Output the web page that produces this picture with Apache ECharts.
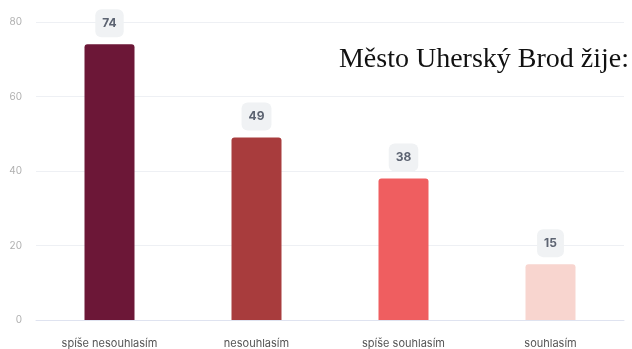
<!DOCTYPE html>
<html>
<head>
<meta charset="utf-8">
<script src="https://cdn.jsdelivr.net/npm/echarts@6/dist/echarts.min.js"></script>
<style>
  html, body { margin: 0; padding: 0; background: #fff; }
  #chart { width: 632px; height: 349px; }
</style>
</head>
<body>
<div id="chart"></div>
<script>
// Survey answers and counts
const categories = ['spíše nesouhlasím', 'nesouhlasím', 'spíše souhlasím', 'souhlasím'];
const counts = [74, 49, 38, 15];
const barColors = ['#6c1737', '#a83c3d', '#ef5e60', '#f8d5cf'];
const titleText = 'Město Uherský Brod žije:';

const chart = echarts.init(document.getElementById('chart'), null, { renderer: 'canvas' });

chart.setOption({
  animation: false,
  title: {
    text: titleText,
    right: 3,
    top: 46,
    padding: 0,
    textStyle: {
      fontFamily: 'Liberation Serif',
      fontSize: 28,
      fontWeight: 'normal',
      color: '#111'
    }
  },
  grid: { left: 36, right: 8, top: 22, bottom: 26, containLabel: false },
  xAxis: {
    type: 'category',
    data: categories,
    axisTick: { show: false },
    axisLine: { lineStyle: { color: '#dfe3f0', width: 1 } },
    axisLabel: { color: '#555', fontSize: 11, fontFamily: 'Inter', margin: 18 }
  },
  yAxis: {
    type: 'value',
    min: 0,
    max: 80,
    interval: 20,
    axisLabel: { color: '#b0b0b0', fontSize: 10, fontFamily: 'Inter', margin: 14 },
    splitLine: { lineStyle: { color: '#eef0f4' } }
  },
  series: [{
    type: 'bar',
    barWidth: 50,
    data: counts.map((v, i) => ({ value: v, itemStyle: { color: barColors[i] } })),
    itemStyle: { borderRadius: [3, 3, 0, 0] },
    label: {
      show: true,
      position: 'top',
      distance: 7,
      color: '#5d6472',
      fontWeight: 'bold',
      fontSize: 12,
      fontFamily: 'Inter',
      backgroundColor: '#f0f2f4',
      borderRadius: 6,
      padding: [8, 7],
      lineHeight: 12
    }
  }]
});
</script>
</body>
</html>
